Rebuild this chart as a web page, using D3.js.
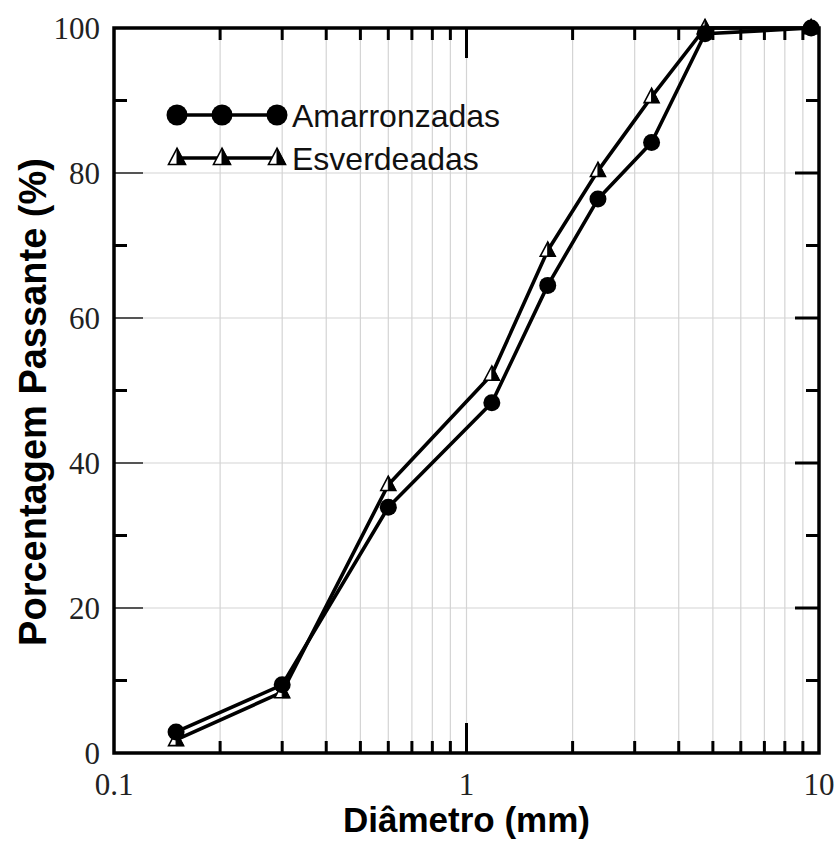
<!DOCTYPE html>
<html>
<head>
<meta charset="utf-8">
<script src="https://cdn.jsdelivr.net/npm/d3@7"></script>
<style>
  body { margin: 0; background: #fff; }
  svg { display: block; }
</style>
</head>
<body>
<div id="chart"></div>
<script>
// sieve openings (mm)
const diameters = [0.15, 0.3, 0.6, 1.18, 1.7, 2.36, 3.35, 4.75, 9.5];
// percent passing
const amarronzadas = [2.9, 9.4, 33.9, 48.3, 64.5, 76.4, 84.2, 99.2, 100];
const esverdeadas = [1.8, 8.4, 37.0, 52.2, 69.3, 80.3, 90.5, 100, 100];
const seriesNames = ['Amarronzadas', 'Esverdeadas'];
const xTickLabels = ['0.1', '1', '10'];
const yTickValues = [0, 20, 40, 60, 80, 100];

const width = 836, height = 841;
const margin = {top: 28, right: 17, bottom: 88, left: 114};
const innerW = width - margin.left - margin.right;
const innerH = height - margin.top - margin.bottom;

const svg = d3.select('#chart').append('svg')
  .attr('width', width)
  .attr('height', height);

const x = d3.scaleLog().domain([0.1, 10]).range([0, innerW]);
const y = d3.scaleLinear().domain([0, 100]).range([innerH, 0]);

const g = svg.append('g').attr('transform', `translate(${margin.left},${margin.top})`);

// log minor values
const minorX = [];
[0.1, 1].forEach(base => { for (let k = 2; k <= 9; k++) minorX.push(+(base * k).toFixed(2)); });
const minorY = [10, 30, 50, 70, 90];

// gridlines
g.append('g').selectAll('line.vg')
  .data(minorX.concat([1]))
  .enter().append('line')
    .attr('x1', d => x(d)).attr('x2', d => x(d))
    .attr('y1', 0).attr('y2', innerH)
    .attr('stroke', '#d4d4d4').attr('stroke-width', 1.2);

g.append('g').selectAll('line.hg')
  .data([20, 40, 60, 80])
  .enter().append('line')
    .attr('x1', 0).attr('x2', innerW)
    .attr('y1', d => y(d)).attr('y2', d => y(d))
    .attr('stroke', '#d4d4d4').attr('stroke-width', 1.2);

// ticks
const ticks = g.append('g').attr('stroke', '#000');
// x minor ticks, bottom and top
minorX.forEach(v => {
  ticks.append('line').attr('x1', x(v)).attr('x2', x(v)).attr('y1', innerH).attr('y2', innerH - 12).attr('stroke-width', 3);
  ticks.append('line').attr('x1', x(v)).attr('x2', x(v)).attr('y1', 0).attr('y2', 12).attr('stroke-width', 3);
});
// x major tick at 1
ticks.append('line').attr('x1', x(1)).attr('x2', x(1)).attr('y1', innerH).attr('y2', innerH - 30).attr('stroke-width', 3);
ticks.append('line').attr('x1', x(1)).attr('x2', x(1)).attr('y1', 0).attr('y2', 30).attr('stroke-width', 3);
// y minor ticks
minorY.forEach(v => {
  ticks.append('line').attr('x1', 0).attr('x2', 13).attr('y1', y(v)).attr('y2', y(v)).attr('stroke-width', 3);
  ticks.append('line').attr('x1', innerW).attr('x2', innerW - 13).attr('y1', y(v)).attr('y2', y(v)).attr('stroke-width', 3);
});
// y major ticks
[20, 40, 60, 80].forEach(v => {
  ticks.append('line').attr('x1', 0).attr('x2', 29).attr('y1', y(v)).attr('y2', y(v))
    .attr('stroke', '#555').attr('stroke-width', 2);
  ticks.append('line').attr('x1', innerW).attr('x2', innerW - 24).attr('y1', y(v)).attr('y2', y(v)).attr('stroke-width', 3);
});

// frame
g.append('rect')
  .attr('x', 0).attr('y', 0).attr('width', innerW).attr('height', innerH)
  .attr('fill', 'none').attr('stroke', '#000').attr('stroke-width', 3.5);

// tick labels
g.append('g').selectAll('text')
  .data(yTickValues)
  .enter().append('text')
    .attr('x', -14)
    .attr('y', d => y(d))
    .attr('dy', '0.34em')
    .attr('text-anchor', 'end')
    .attr('font-family', 'Liberation Serif, Times New Roman, serif')
    .attr('font-size', 31)
    .attr('fill', '#222')
    .text(d => d);

g.append('g').selectAll('text')
  .data(xTickLabels)
  .enter().append('text')
    .attr('x', d => x(+d))
    .attr('y', innerH + 42)
    .attr('text-anchor', 'middle')
    .attr('font-family', 'Liberation Serif, Times New Roman, serif')
    .attr('font-size', 31)
    .attr('fill', '#222')
    .text(d => d);

// axis titles
svg.append('text')
  .attr('x', margin.left + innerW / 2)
  .attr('y', 832)
  .attr('text-anchor', 'middle')
  .attr('font-family', 'Liberation Sans, Arial, sans-serif')
  .attr('font-weight', 'bold')
  .attr('font-size', 35)
  .text('Diâmetro (mm)');

svg.append('text')
  .attr('transform', `translate(46,402) rotate(-90)`)
  .attr('text-anchor', 'middle')
  .attr('font-family', 'Liberation Sans, Arial, sans-serif')
  .attr('font-weight', 'bold')
  .attr('font-size', 38)
  .text('Porcentagem Passante (%)');

// series lines
const line = d3.line().x(d => x(d[0])).y(d => y(d[1]));
const ptsA = diameters.map((d, i) => [d, amarronzadas[i]]);
const ptsE = diameters.map((d, i) => [d, esverdeadas[i]]);

g.append('path').datum(ptsA).attr('d', line)
  .attr('fill', 'none').attr('stroke', '#000').attr('stroke-width', 3.6).attr('stroke-linejoin', 'round');
g.append('path').datum(ptsE).attr('d', line)
  .attr('fill', 'none').attr('stroke', '#000').attr('stroke-width', 3.6).attr('stroke-linejoin', 'round');

// triangle marker: white left half, black right half
function triangle(sel, cx, cy, s) {
  const h = s * 0.95;
  const top = [cx, cy - h * 0.6], bl = [cx - s / 2, cy + h * 0.4], br = [cx + s / 2, cy + h * 0.4];
  sel.append('path')
    .attr('d', `M${top}L${bl}L${br}Z`)
    .attr('fill', '#fff').attr('stroke', '#000').attr('stroke-width', 1.6);
  sel.append('path')
    .attr('d', `M${top}L${[cx, cy + h * 0.4]}L${br}Z`)
    .attr('fill', '#000').attr('stroke', '#000').attr('stroke-width', 1);
}

const markE = g.append('g');
ptsE.forEach(p => triangle(markE, x(p[0]), y(p[1]), 15));

g.append('g').selectAll('circle')
  .data(ptsA)
  .enter().append('circle')
    .attr('cx', d => x(d[0]))
    .attr('cy', d => y(d[1]))
    .attr('r', 8.5)
    .attr('fill', '#000');

// legend
const leg = svg.append('g');
const legX = [177, 222, 277];
const legY = [115, 158];
leg.append('line').attr('x1', legX[0]).attr('x2', legX[2]).attr('y1', legY[0]).attr('y2', legY[0])
  .attr('stroke', '#000').attr('stroke-width', 3.4);
leg.append('line').attr('x1', legX[0]).attr('x2', legX[2]).attr('y1', legY[1]).attr('y2', legY[1])
  .attr('stroke', '#000').attr('stroke-width', 3.4);
legX.forEach(lx => {
  leg.append('circle').attr('cx', lx).attr('cy', legY[0]).attr('r', 10.5).attr('fill', '#000');
  triangle(leg, lx, legY[1], 17);
});
seriesNames.forEach((name, i) => {
  leg.append('text')
    .attr('x', 292)
    .attr('y', legY[i])
    .attr('dy', '0.36em')
    .attr('font-family', 'Liberation Sans, Arial, sans-serif')
    .attr('font-size', 32)
    .attr('fill', '#111')
    .text(name);
});
</script>
</body>
</html>
